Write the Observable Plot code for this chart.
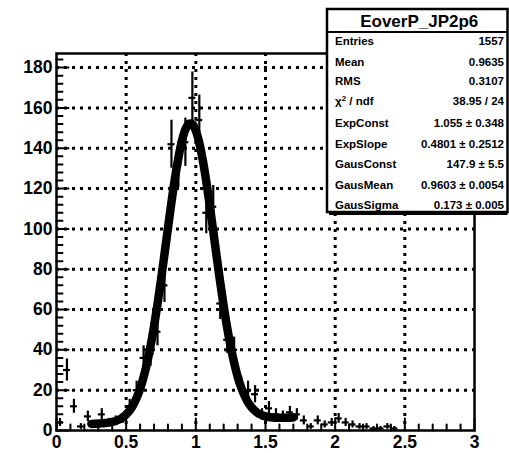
<!DOCTYPE html>
<html><head><meta charset="utf-8">
<script src="https://cdn.jsdelivr.net/npm/d3@7"></script>
<script src="https://cdn.jsdelivr.net/npm/@observablehq/plot@0.6"></script>
<style>
body{margin:0;background:#fff;}
#chart{position:relative;width:509px;height:453px;overflow:hidden;}
</style></head><body><div id="chart"></div>
<script>
// Histogram bins (centres) and counts
const binCenters = [0.025,0.075,0.125,0.175,0.225,0.275,0.325,0.375,0.425,0.475,0.525,0.575,0.625,0.675,0.725,0.775,0.825,0.875,0.925,0.975,1.025,1.075,1.125,1.175,1.225,1.275,1.325,1.375,1.425,1.475,1.525,1.575,1.625,1.675,1.725,1.775,1.825,1.875,1.925,1.975,2.025,2.075,2.125,2.175,2.225,2.275,2.325,2.375,2.425];
const counts = [4,30,12,2,7,3,8,4,5,6,12,20,36,38,49,72,142,132,143,165,154,108,111,63,45,40,22,20,18,8,11,8,7,9,8,5,2,5,3,4,6,4,3,2,2,1,1,2,1];
const binWidth = 0.05;

// Fit curve
const fitX = [0.25,0.30,0.325,0.35,0.375,0.40,0.425,0.45,0.475,0.50,0.525,0.55,0.575,0.60,0.625,0.65,0.675,0.70,0.725,0.75,0.775,0.80,0.825,0.85,0.875,0.90,0.925,0.95,0.975,1.00,1.025,1.05,1.075,1.10,1.125,1.15,1.175,1.20,1.225,1.25,1.275,1.30,1.325,1.35,1.375,1.40,1.425,1.45,1.475,1.50,1.55,1.60,1.65,1.70];
const fitY = [3.27,3.42,3.53,3.69,3.92,4.26,4.75,5.47,6.5,7.94,9.9,12.6,16.2,20.7,26.5,33.5,41.9,51.7,62.7,74.7,87.5,100.4,113.2,125.0,135.3,143.6,149.3,152.1,152.0,148.7,142.6,134.0,123.5,111.6,98.9,86.0,73.5,61.7,51.0,41.6,33.6,26.8,21.4,17.2,13.9,11.5,9.7,8.4,7.6,7.0,6.46,6.33,6.37,6.49];

// Axis ticks
const xMajor = [0,0.5,1,1.5,2,2.5,3];
const xMinor = [0.1,0.2,0.3,0.4,0.6,0.7,0.8,0.9,1.1,1.2,1.3,1.4,1.6,1.7,1.8,1.9,2.1,2.2,2.3,2.4,2.6,2.7,2.8,2.9];
const yMajor = [0,20,40,60,80,100,120,140,160,180];
const yMinor = [4,8,12,16,24,28,32,36,44,48,52,56,64,68,72,76,84,88,92,96,104,108,112,116,124,128,132,136,144,148,152,156,164,168,172,176,184];
const xGrid = [0.5,1,1.5,2,2.5];
const yGrid = [20,40,60,80,100,120,140,160,180];

// Stats box
const statsTitle = "EoverP_JP2p6";
const statsNames = ["Entries","Mean","RMS","χ2 / ndf","ExpConst","ExpSlope","GausConst","GausMean","GausSigma"];
const statsValues = ["1557","0.9635","0.3107","38.95 / 24","1.055 ± 0.348","0.4801 ± 0.2512","147.9 ± 5.5","0.9603 ± 0.0054","0.173 ± 0.005"];

const hist = binCenters.map((x, i) => ({x, n: counts[i]}));
const fit = fitX.map((x, i) => ({x, y: fitY[i]}));

const tickShape = {draw(context, l) { context.moveTo(0, 0); context.lineTo(0, -l); }};
const FONT = "Liberation Sans, Arial, Helvetica, sans-serif";

const chart = Plot.plot({
  width: 509,
  height: 453,
  marginLeft: 56,
  marginRight: 35,
  marginTop: 53,
  marginBottom: 23,
  style: {fontFamily: FONT, fontWeight: "bold", background: "white", overflow: "visible"},
  x: {domain: [0, 3]},
  y: {domain: [0, 187]},
  marks: [
    Plot.gridX(xGrid, {stroke: "black", strokeOpacity: 1, strokeWidth: 3, strokeDasharray: "3,5"}),
    Plot.gridY(yGrid, {stroke: "black", strokeOpacity: 1, strokeWidth: 3, strokeDasharray: "3,5"}),
    Plot.vector(yMajor, {y: d => d, frameAnchor: "left", rotate: 90, length: 12, anchor: "start", shape: tickShape, stroke: "black", strokeWidth: 2}),
    Plot.vector(yMinor, {y: d => d, frameAnchor: "left", rotate: 90, length: 6, anchor: "start", shape: tickShape, stroke: "black", strokeWidth: 2}),
    Plot.vector(xMajor, {x: d => d, frameAnchor: "bottom", rotate: 0, length: 12, anchor: "start", shape: tickShape, stroke: "black", strokeWidth: 2}),
    Plot.vector(xMinor, {x: d => d, frameAnchor: "bottom", rotate: 0, length: 6, anchor: "start", shape: tickShape, stroke: "black", strokeWidth: 2}),
    Plot.ruleX(hist, {x: "x", y1: d => d.n - Math.sqrt(d.n), y2: d => d.n + Math.sqrt(d.n), stroke: "black", strokeWidth: 2.2}),
    Plot.ruleY(hist, {y: "n", x1: d => d.x - binWidth / 2, x2: d => d.x + binWidth / 2, stroke: "black", strokeWidth: 2.2}),
    Plot.line(fit, {x: "x", y: "y", stroke: "black", strokeWidth: 8.5, curve: "catmull-rom"}),
    Plot.frame({stroke: "black", strokeWidth: 2.5}),
    Plot.axisY(yMajor, {tickSize: 0, tickPadding: 4, label: null, fontSize: 17.5, fontWeight: "bold", fill: "black", tickFormat: d => String(d)}),
    Plot.axisX(xMajor, {tickSize: 0, tickPadding: 5, label: null, fontSize: 17.5, fontWeight: "bold", fill: "black", tickFormat: d => String(d)})
  ]
});

document.getElementById("chart").appendChild(chart);

// Stats box overlay (ROOT style)
const svg = d3.select(chart);
const g = svg.append("g").attr("font-family", FONT).attr("font-weight", "bold").attr("fill", "black");
const bx0 = 327, bx1 = 507.5, by0 = 9, by1 = 212, sep = 32;
g.append("rect").attr("x", bx0).attr("y", by0).attr("width", bx1 - bx0).attr("height", by1 - by0)
  .attr("fill", "white").attr("stroke", "black").attr("stroke-width", 2.5);
g.append("line").attr("x1", bx0 + 2).attr("x2", bx1).attr("y1", by1 + 1.5).attr("y2", by1 + 1.5).attr("stroke", "black").attr("stroke-width", 3);
g.append("line").attr("x1", bx0).attr("x2", bx1).attr("y1", sep).attr("y2", sep).attr("stroke", "black").attr("stroke-width", 2);
g.append("text").attr("x", (bx0 + bx1) / 2 + 2).attr("y", 21).attr("dy", "0.36em").attr("text-anchor", "middle")
  .attr("font-size", 17).text(statsTitle);
const rowY = [41, 61.5, 81, 101, 122.5, 143.5, 164, 185, 205];
statsNames.forEach((name, i) => {
  const t = g.append("text").attr("x", 335).attr("y", rowY[i]).attr("dy", "0.36em").attr("text-anchor", "start").attr("font-size", 11.5);
  if (name.startsWith("χ2")) {
    t.append("tspan").text("χ");
    t.append("tspan").attr("dy", "-4.5").attr("font-size", 8).text("2");
    t.append("tspan").attr("dy", "4.5").text(" / ndf");
  } else {
    t.text(name);
  }
  g.append("text").attr("x", 504).attr("y", rowY[i]).attr("dy", "0.36em").attr("text-anchor", "end")
    .attr("font-size", 11.5).text(statsValues[i]);
});
</script>
</body></html>
